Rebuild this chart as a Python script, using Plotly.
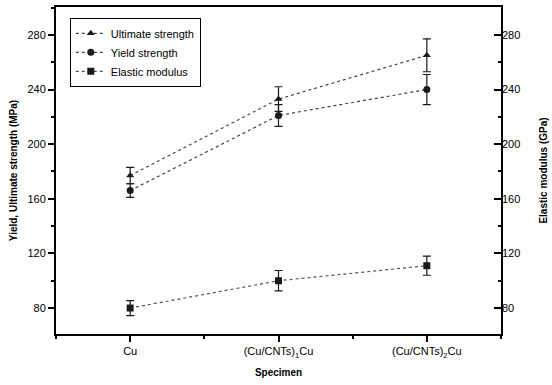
import plotly.graph_objects as go

categories = ["Cu", "(Cu/CNTs)<sub>1</sub>Cu", "(Cu/CNTs)<sub>2</sub>Cu"]
ultimate = [177, 233, 265]
ultimate_err = [6, 9, 12]
yield_s = [166, 221, 240]
yield_err = [5, 8, 11]
elastic = [80, 100, 111]
elastic_err = [5.5, 7.5, 7]
y_ticks = [80, 120, 160, 200, 240, 280]

xpos = list(range(len(categories)))

fig = go.Figure()

def add(name, y, err, symbol, dash, axis, lcolor):
    fig.add_trace(go.Scatter(
        x=xpos, y=y, name=name, yaxis=axis,
        mode="lines+markers",
        line=dict(color=lcolor, width=1.2, dash=dash),
        marker=dict(symbol=symbol, size=7, color="#1a1a1a"),
        error_y=dict(type="data", array=err, visible=True, color="#1a1a1a", thickness=1.2, width=4),
    ))

add("Ultimate strength", ultimate, ultimate_err, "triangle-up", "dot", "y", "#444")
add("Yield strength", yield_s, yield_err, "circle", "dot", "y", "#444")
add("Elastic modulus", elastic, elastic_err, "square", "dot", "y2", "#555")

font = "Liberation Sans, Arial, sans-serif"
yr = [61, 300.4]
tf = dict(family=font, size=11, color="black")

fig.update_layout(
    width=552, height=385,
    margin=dict(l=56, r=48, t=5, b=51),
    paper_bgcolor="white", plot_bgcolor="white",
    font=dict(family=font, size=11, color="black"),
    showlegend=True,
    legend=dict(x=0.031, y=0.967, xanchor="left", yanchor="top",
                bordercolor="black", borderwidth=1, bgcolor="white",
                font=dict(size=11), tracegroupgap=0, itemwidth=30),
    xaxis=dict(range=[-0.5, 2.5], tickvals=xpos, ticktext=categories, tickfont=tf,
               showgrid=False, zeroline=False,
               showline=True, linecolor="black", linewidth=2, mirror=True,
               ticks="outside", ticklen=6, tickwidth=1.5, tickcolor="black",
               minor=dict(dtick=0.5, tick0=-0.5, ticks="outside", ticklen=3, tickcolor="black", showgrid=False),
               title=dict(text="<b>Specimen</b>", font=dict(size=10, color="black"), standoff=10)),
    yaxis=dict(range=yr, tickvals=y_ticks, tickfont=tf, showgrid=False, zeroline=False,
               showline=True, linecolor="black", linewidth=2, mirror=True,
               ticks="outside", ticklen=6, tickwidth=1.5, tickcolor="black",
               minor=dict(dtick=20, tick0=0, ticks="outside", ticklen=3, tickcolor="black", showgrid=False),
               title=dict(text="<b>Yield, Ultimate strength (MPa)</b>", font=dict(size=10, color="black"), standoff=8)),
    yaxis2=dict(range=yr, tickvals=y_ticks, tickfont=tf, overlaying="y", side="right",
                showgrid=False, zeroline=False, showline=False,
                ticks="inside", ticklen=7, tickwidth=1.5, tickcolor="black",
                minor=dict(dtick=20, tick0=0, ticks="inside", ticklen=3, tickcolor="black", showgrid=False),
                title=dict(text="<b>Elastic modulus (GPa)</b>", font=dict(size=10, color="black"), standoff=20)),
)

fig.write_html("out.html")
